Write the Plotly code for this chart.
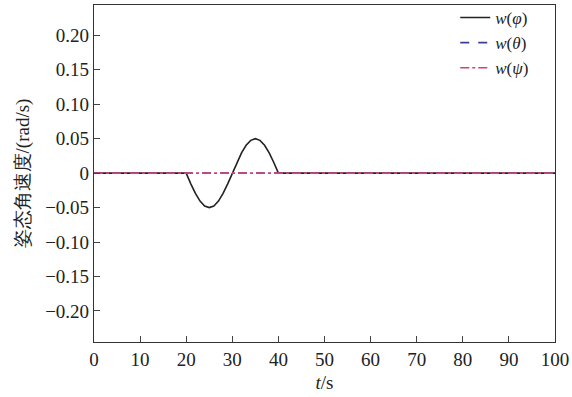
import plotly.graph_objects as go

# data
t_phi = [0, 20, 21, 22, 23, 24, 25, 26, 27, 28, 29, 30, 31, 32, 33, 34, 35, 36, 37, 38, 39, 40, 100]
w_phi = [0, 0, -0.0155, -0.0294, -0.0405, -0.0476, -0.0500, -0.0476, -0.0405, -0.0294, -0.0155, 0,
         0.0155, 0.0294, 0.0405, 0.0476, 0.0500, 0.0476, 0.0405, 0.0294, 0.0155, 0, 0]
t_theta = [0, 100]
w_theta = [0, 0]
t_psi = [0, 100]
w_psi = [0, 0]

x_ticks = [0, 10, 20, 30, 40, 50, 60, 70, 80, 90, 100]
y_ticks = [0.20, 0.15, 0.10, 0.05, 0, -0.05, -0.10, -0.15, -0.20]
y_ticktext = ["0.20", "0.15", "0.10", "0.05", "0", "\u22120.05", "\u22120.10", "\u22120.15", "\u22120.20"]

font = "Liberation Serif"

fig = go.Figure()
fig.add_trace(go.Scatter(x=t_phi, y=w_phi, mode="lines", name="<i>w</i>(<i>φ</i>)",
                         line=dict(color="#222222", width=1.6)))
fig.add_trace(go.Scatter(x=t_theta, y=w_theta, mode="lines", name="<i>w</i>(<i>θ</i>)",
                         line=dict(color="#3a3f9a", width=1.6, dash="dash")))
fig.add_trace(go.Scatter(x=t_psi, y=w_psi, mode="lines", name="<i>w</i>(<i>ψ</i>)",
                         line=dict(color="#d0407a", width=1.6, dash="dashdot")))

fig.update_layout(
    width=572, height=397,
    margin=dict(l=94, r=17, t=5, b=55, autoexpand=False),
    paper_bgcolor="white", plot_bgcolor="white",
    font=dict(family=font, size=19, color="#222"),
    showlegend=True,
    legend=dict(x=0.955, xanchor="right", y=1.015, yanchor="top",
                bgcolor="rgba(0,0,0,0)", font=dict(size=17),
                tracegroupgap=0, itemwidth=30),
    xaxis=dict(range=[0, 100], tickvals=x_ticks, ticks="inside", ticklen=6,
               showgrid=False, zeroline=False, showline=True, linecolor="#333",
               linewidth=1.2, mirror=True,
               title=dict(text="<i>t</i>/s", standoff=6, font=dict(size=19))),
    yaxis=dict(range=[-0.245, 0.244], tickvals=y_ticks, ticktext=y_ticktext,
               ticks="inside", ticklen=6, showgrid=False, zeroline=False,
               showline=True, linecolor="#333", linewidth=1.2, mirror=True,
               title=dict(text="姿态角速度/(rad/s)", standoff=10,
                          font=dict(size=19, family="Liberation Serif"))),
)

fig.write_html("out.html")
